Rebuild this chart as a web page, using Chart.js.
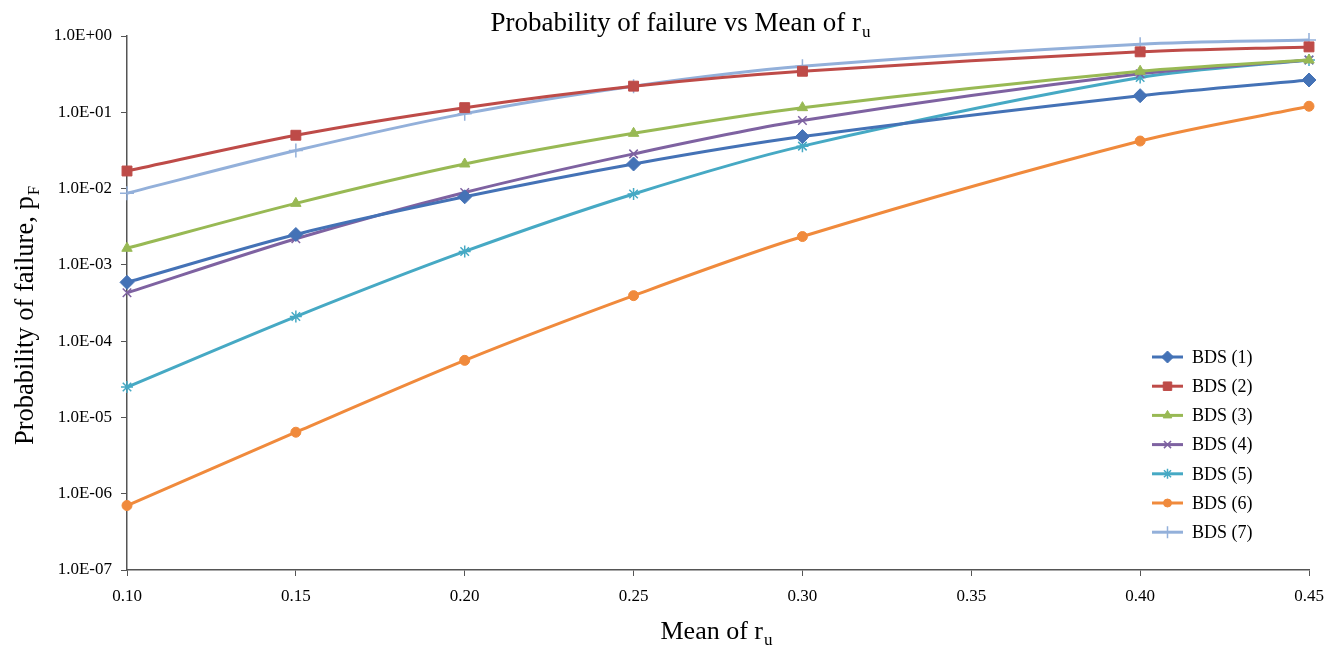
<!DOCTYPE html>
<html>
<head>
<meta charset="utf-8">
<script src="https://cdn.jsdelivr.net/npm/chart.js@4.4.0/dist/chart.umd.min.js"></script>
<style>
  html, body { margin: 0; padding: 0; background: #fff; }
  #wrap { width: 1338px; height: 646px; position: relative; }
</style>
</head>
<body>
<div id="wrap"><canvas id="myChart"></canvas></div>
<script>
// data
const meanRu = [0.10, 0.15, 0.20, 0.25, 0.30, 0.40, 0.45];
const bds1 = [5.9e-4, 2.5e-3, 7.8e-3, 2.1e-2, 4.8e-2, 1.65e-1, 2.65e-1];
const bds2 = [1.7e-2, 5.0e-2, 1.15e-1, 2.2e-1, 3.45e-1, 6.2e-1, 7.2e-1];
const bds3 = [1.65e-3, 6.4e-3, 2.1e-2, 5.3e-2, 1.15e-1, 3.45e-1, 4.85e-1];
const bds4 = [4.3e-4, 2.2e-3, 8.9e-3, 2.85e-2, 7.8e-2, 3.2e-1, 4.85e-1];
const bds5 = [2.5e-5, 2.1e-4, 1.5e-3, 8.5e-3, 3.6e-2, 2.85e-1, 4.85e-1];
const bds6 = [7.0e-7, 6.4e-6, 5.6e-5, 3.95e-4, 2.35e-3, 4.2e-2, 1.2e-1];
const bds7 = [8.7e-3, 3.15e-2, 9.6e-2, 2.2e-1, 4.0e-1, 7.8e-1, 8.85e-1];
const seriesNames = ['BDS (1)', 'BDS (2)', 'BDS (3)', 'BDS (4)', 'BDS (5)', 'BDS (6)', 'BDS (7)'];
const xTicks = [0.10, 0.15, 0.20, 0.25, 0.30, 0.35, 0.40, 0.45];
const yTicks = [1e-7, 1e-6, 1e-5, 1e-4, 1e-3, 1e-2, 1e-1, 1];

const serif = "'Liberation Serif', 'Times New Roman', serif";
const colors = ['#4472B6', '#BE4B48', '#98B954', '#7E62A1', '#46A9C4', '#F08A3C', '#93B0DA'];
const styles = ['rectRot', 'rect', 'triangle', 'crossRot', 'star', 'circle', 'cross'];
const radii = [7, 7, 6, 6, 6, 5, 7];
const allSeries = [bds1, bds2, bds3, bds4, bds5, bds6, bds7];

function mkSet(i) {
  const crossy = (styles[i] === 'crossRot' || styles[i] === 'star' || styles[i] === 'cross');
  return {
    label: seriesNames[i],
    data: meanRu.map((x, k) => ({ x: x, y: allSeries[i][k] })),
    borderColor: colors[i],
    backgroundColor: colors[i],
    borderWidth: 3,
    tension: 0.3,
    pointStyle: styles[i],
    pointRadius: radii[i],
    pointBorderWidth: crossy ? 1.5 : 1,
    pointBackgroundColor: colors[i],
    pointBorderColor: colors[i],
    clip: false
  };
}

function drawSub(ctx, main, sub, x, y, size, subSize) {
  ctx.font = size + 'px ' + serif;
  const w1 = ctx.measureText(main).width;
  ctx.font = subSize + 'px ' + serif;
  const w2 = ctx.measureText(sub).width;
  let sx = x - (w1 + w2) / 2;
  ctx.textAlign = 'left';
  ctx.textBaseline = 'alphabetic';
  ctx.font = size + 'px ' + serif;
  ctx.fillText(main, sx, y);
  ctx.font = subSize + 'px ' + serif;
  ctx.fillText(sub, sx + w1 + 1, y + size * 0.22);
}

const textPlugin = {
  id: 'texts',
  afterDraw(chart) {
    const ctx = chart.ctx;
    ctx.save();
    ctx.fillStyle = '#000';
    drawSub(ctx, 'Probability of failure vs Mean of r', 'u', 680, 31, 27, 17);
    drawSub(ctx, 'Mean of r', 'u', 716, 639, 26, 17);
    ctx.translate(33, 316);
    ctx.rotate(-Math.PI / 2);
    drawSub(ctx, 'Probability of failure, p', 'F', 0, 0, 26.5, 17);
    ctx.restore();

    // legend inside the plot
    ctx.save();
    const x0 = 1152, x1 = 1183, tx = 1192;
    chart.data.datasets.forEach((ds, i) => {
      const y = 357 + i * 29.2;
      ctx.strokeStyle = ds.borderColor;
      ctx.lineWidth = 3;
      ctx.beginPath();
      ctx.moveTo(x0, y);
      ctx.lineTo(x1, y);
      ctx.stroke();
      ctx.fillStyle = ds.borderColor;
      ctx.lineWidth = ds.pointBorderWidth;
      Chart.helpers.drawPoint(ctx, { pointStyle: ds.pointStyle, radius: ds.pointRadius - 1, borderWidth: ds.pointBorderWidth, rotation: 0 }, (x0 + x1) / 2, y);
      ctx.fillStyle = '#000';
      ctx.font = '18px ' + serif;
      ctx.textAlign = 'left';
      ctx.textBaseline = 'middle';
      ctx.fillText(ds.label, tx, y + 1);
    });
    ctx.restore();
  }
};

const ctx = document.getElementById('myChart').getContext('2d');
const failChart = new Chart(ctx, {
  type: 'line',
  data: { datasets: allSeries.map((s, i) => mkSet(i)) },
  options: {
    responsive: true,
    maintainAspectRatio: false,
    animation: false,
    layout: { padding: { left: 0, right: 29, top: 36, bottom: 0 } },
    plugins: {
      legend: { display: false },
      title: { display: false },
      tooltip: { enabled: false }
    },
    scales: {
      x: {
        type: 'linear',
        min: 0.10,
        max: 0.45,
        afterBuildTicks: (scale) => { scale.ticks = xTicks.map(v => ({ value: v })); },
        afterFit: (scale) => { scale.height = 76; },
        ticks: {
          color: '#000',
          font: { family: serif, size: 17 },
          padding: 10,
          maxRotation: 0,
          callback: (v) => Number(v).toFixed(2)
        },
        grid: { display: true, drawOnChartArea: false, drawTicks: true, tickLength: 6, color: '#555' },
        border: { display: true, color: '#555', width: 1.5 }
      },
      y: {
        type: 'logarithmic',
        min: 1e-7,
        max: 1,
        afterBuildTicks: (scale) => { scale.ticks = yTicks.map(v => ({ value: v })); },
        afterFit: (scale) => { scale.width = 127; },
        ticks: {
          color: '#000',
          font: { family: serif, size: 17 },
          padding: 9,
          callback: (v) => {
            const e = Math.round(Math.log10(v));
            return '1.0E' + (e < 0 ? '-' : '+') + String(Math.abs(e)).padStart(2, '0');
          }
        },
        grid: { display: true, drawOnChartArea: false, drawTicks: true, tickLength: 6, color: '#555' },
        border: { display: true, color: '#555', width: 1.5 }
      }
    }
  },
  plugins: [textPlugin]
});
</script>
</body>
</html>
